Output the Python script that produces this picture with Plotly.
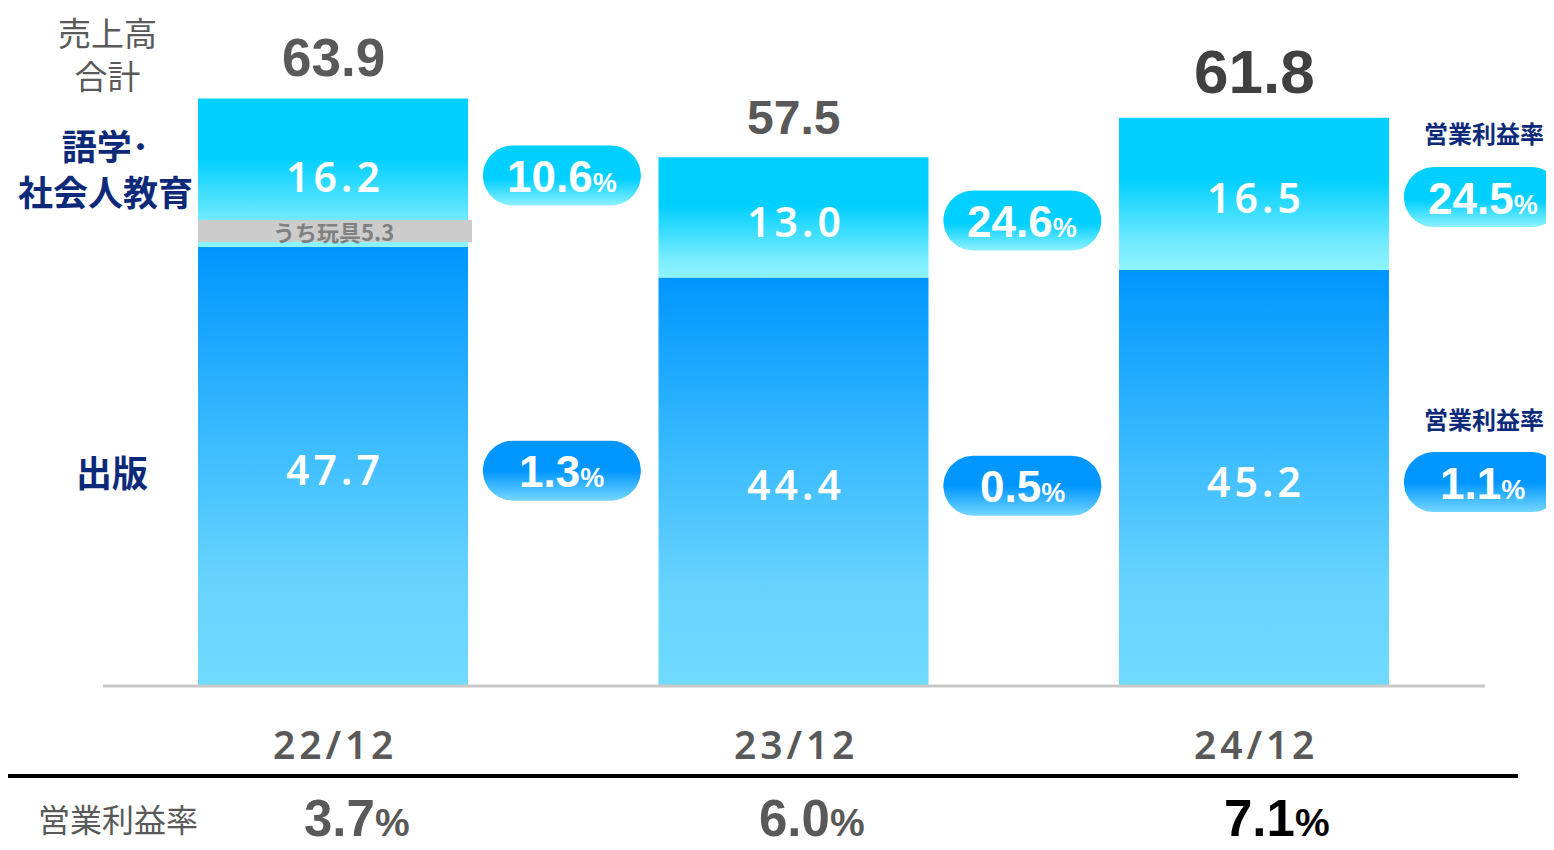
import numpy as np
import plotly.graph_objects as go

# ---- data ----
periods = ["22/12", "23/12", "24/12"]
publishing = [47.7, 44.4, 45.2]          # 出版
language_edu = [16.2, 13.0, 16.5]        # 語学・社会人教育
totals = [63.9, 57.5, 61.8]              # 売上高合計
margin_lang = ["10.6", "24.6", "24.5"]   # 営業利益率 (語学・社会人教育)
margin_pub = ["1.3", "0.5", "1.1"]       # 営業利益率 (出版)
margin_total = ["3.7", "6.0", "7.1"]     # 営業利益率 (全体)
toys_label = "うち玩具5.3"

# ---- layout constants (page has an 8px body margin) ----
OFF = 8
FW, FH = 1546, 842
PX_X = 460.5          # px per category unit
PX_Y = 9.18           # px per value unit
X0 = 333 - OFF        # fig pixel of first category centre
BASE = 685 - OFF      # fig pixel of y = 0
xr = [-X0 / PX_X, (FW - X0) / PX_X]
yr = [-(FH - BASE) / PX_Y, BASE / PX_Y]
BW = 0.5863

JP = "Noto Sans CJK JP"
NAVY = "#0d2a7a"
GRAY = "#595959"

def paper_x(px):
    return (px - OFF) / FW

def paper_y(py):
    return 1 - (py - OFF) / FH

fig = go.Figure()

def rect_trace(xc, y0, y1, scale):
    hw = BW / 2
    fig.add_trace(go.Scatter(
        x=[xc - hw, xc + hw, xc + hw, xc - hw, xc - hw],
        y=[y0, y0, y1, y1, y0],
        mode="lines", line=dict(width=0), fill="toself",
        fillgradient=dict(type="vertical", colorscale=scale, start=y0, stop=y1),
        hoverinfo="skip", showlegend=False))

pub_scale = [[0, "#70daff"], [0.25, "#66d3ff"], [0.6, "#35b8ff"], [1, "#0096ff"]]
lang_scale = [[0, "#8ef4ff"], [0.15, "#7aecff"], [0.6, "#00cfff"], [1, "#00cfff"]]

for i in range(len(periods)):
    rect_trace(i, 0, publishing[i], pub_scale)
    rect_trace(i, publishing[i], totals[i], lang_scale)

# rounded pills
def pill(xc, yc, scale, w_px=158, h_px=60):
    r = h_px / 2
    hx = w_px / 2 - r
    t = np.linspace(-np.pi / 2, np.pi / 2, 30)
    right_x = hx + r * np.cos(t)
    right_y = r * np.sin(t)
    t2 = np.linspace(np.pi / 2, 3 * np.pi / 2, 30)
    left_x = -hx + r * np.cos(t2)
    left_y = r * np.sin(t2)
    xs = np.concatenate([right_x, left_x, right_x[:1]]) / PX_X + xc
    ys = np.concatenate([right_y, left_y, right_y[:1]]) / PX_Y + yc
    fig.add_trace(go.Scatter(
        x=xs, y=ys, mode="lines", line=dict(width=0), fill="toself",
        fillgradient=dict(type="vertical", colorscale=scale,
                          start=yc - r / PX_Y, stop=yc + r / PX_Y),
        hoverinfo="skip", showlegend=False))

pill_lang = [[0, "#8ef1ff"], [0.45, "#00cfff"], [1, "#00cfff"]]
pill_pub = [[0, "#74d6ff"], [0.5, "#0096ff"], [1, "#0096ff"]]

ann = []
for i in range(len(periods)):
    up_mid = publishing[i] + language_edu[i] / 2
    lo_mid = publishing[i] / 2
    pill(i + 0.497, up_mid - 0.3, pill_lang)
    pill(i + 0.497, lo_mid - 0.5, pill_pub)
    ann.append(dict(x=i + 0.497, y=up_mid - 0.3, xref="x", yref="y",
                    text=f"<b>{margin_lang[i]}<span style='font-size:27px'>%</span></b>",
                    font=dict(family="Liberation Sans", size=44, color="white"),
                    showarrow=False, xanchor="center", yanchor="middle", yshift=-1))
    ann.append(dict(x=i + 0.497, y=lo_mid - 0.5, xref="x", yref="y",
                    text=f"<b>{margin_pub[i]}<span style='font-size:27px'>%</span></b>",
                    font=dict(family="Liberation Sans", size=44, color="white"),
                    showarrow=False, xanchor="center", yanchor="middle", yshift=-1))
    # segment values
    ann.append(dict(x=i, y=up_mid, xref="x", yref="y", text="\u200a".join(f"{language_edu[i]:.1f}"),
                    font=dict(family="Noto Sans", size=41, color="white", weight=600),
                    showarrow=False, xanchor="center", yanchor="middle", yshift=-3))
    ann.append(dict(x=i, y=lo_mid, xref="x", yref="y", text="\u200a".join(f"{publishing[i]:.1f}"),
                    font=dict(family="Noto Sans", size=41, color="white", weight=600),
                    showarrow=False, xanchor="center", yanchor="middle", yshift=-3))
    # categories
    ann.append(dict(x=i, y=paper_y(743), xref="x", yref="paper", text="\u200a".join(periods[i]),
                    font=dict(family="Noto Sans", size=39, color=GRAY, weight=600),
                    showarrow=False, xanchor="center", yanchor="middle"))

# totals
tot_sizes = [53, 48, 62]
tot_colors = ["#595959", "#595959", "#404040"]
tot_shift = [41, 40, 46]
for i in range(len(periods)):
    ann.append(dict(x=i, y=totals[i], xref="x", yref="y", text=f"<b>{totals[i]}</b>",
                    font=dict(family="Liberation Sans", size=tot_sizes[i], color=tot_colors[i]),
                    showarrow=False, xanchor="center", yanchor="middle", yshift=tot_shift[i]))

# bottom operating margins
bot_colors = [GRAY, GRAY, "#000000"]
bot_x = [24 / PX_X, 18 / PX_X, 23 / PX_X]
for i in range(len(periods)):
    ann.append(dict(x=i + bot_x[i], y=paper_y(818), xref="x", yref="paper",
                    text=f"<b>{margin_total[i]}<span style='font-size:39px'>%</span></b>",
                    font=dict(family="Liberation Sans", size=51, color=bot_colors[i]),
                    showarrow=False, xanchor="center", yanchor="middle"))

def pxa(x, y, text, size, color, family=JP, bold=False):
    ann.append(dict(x=paper_x(x), y=paper_y(y), xref="paper", yref="paper",
                    text=f"<b>{text}</b>" if bold else text,
                    font=dict(family=family, size=size, color=color),
                    showarrow=False, xanchor="center", yanchor="middle"))

pxa(107, 54, "売上高<br>合計", 33, GRAY)
pxa(105, 168, "語学･<br>社会人教育", 35, NAVY, bold=True)
pxa(112, 471, "出版", 36, NAVY, bold=True)
pxa(1484, 133, "営業利益率", 24, NAVY, bold=True)
pxa(1484, 418, "営業利益率", 24, NAVY, bold=True)
pxa(118, 818, "営業利益率", 32, GRAY)

# toys band label
ann.append(dict(x=0.002, y=publishing[0] + 1.78, xref="x", yref="y", text=f"<b>{toys_label}</b>",
                font=dict(family=JP, size=22, color="#808080"),
                showarrow=False, xanchor="center", yanchor="middle"))

shapes = [
    dict(type="rect", xref="x", yref="y", x0=-BW / 2, x1=BW / 2 + 4 / PX_X,
         y0=publishing[0] + 0.56, y1=publishing[0] + 2.95, fillcolor="#cccccc", line=dict(width=0)),
    dict(type="line", xref="paper", yref="y", x0=paper_x(103), x1=paper_x(1485), y0=-0.1, y1=-0.1,
         line=dict(color="#c8c8c8", width=3)),
    dict(type="line", xref="paper", yref="paper", x0=paper_x(7), x1=paper_x(1518),
         y0=paper_y(776), y1=paper_y(776), line=dict(color="#000000", width=4)),
]

fig.update_layout(
    width=FW, height=FH, margin=dict(l=0, r=0, t=0, b=0),
    paper_bgcolor="white", plot_bgcolor="white",
    xaxis=dict(range=xr, visible=False, fixedrange=True),
    yaxis=dict(range=yr, visible=False, fixedrange=True),
    annotations=ann, shapes=shapes, showlegend=False,
)

fig.write_html("out.html")
